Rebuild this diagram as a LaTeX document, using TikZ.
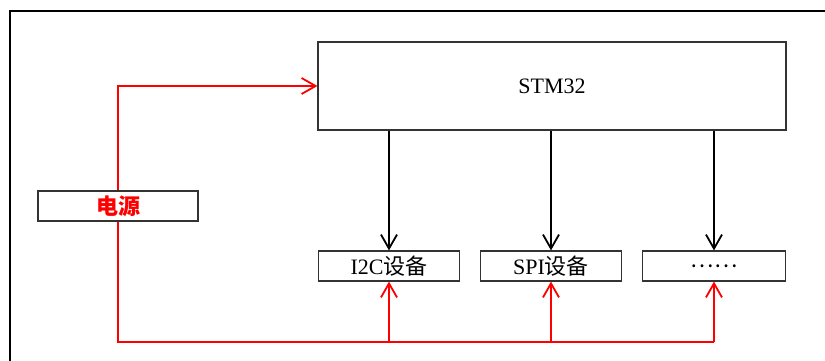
\documentclass[tikz,border=0pt]{standalone}
\usepackage{fontspec}
\setmainfont{Liberation Serif}
\newfontfamily\cjk{Noto Sans CJK SC}
\usetikzlibrary{arrows.meta}
\tikzset{
    box/.style={draw=black!80, line width=1.2pt, fill=white, inner sep=0pt,
        minimum height=30pt, font=\fontsize{22}{24}\selectfont},
    wire/.style={line width=1.8pt},
    wire arrow/.style={wire, -{Straight Barb[length=14pt, width=16pt]}},
}

\begin{document}
\begin{tikzpicture}[x=1pt, y=-1pt]
\useasboundingbox (0,0) rectangle (825,361);
\draw[line width=1.4pt] (10,370) -- (10,11) -- (835,11);
\node[box, minimum width=468pt, minimum height=88pt] (stm) at (552,86) {STM32};
\node[box, minimum width=160pt, text=red] (power) at (118,206) {\cjk\bfseries 电源};
\node[box, minimum width=141pt] (i2c) at (389,266) {I2C{\cjk 设备}};
\node[box, minimum width=141pt] (spi) at (551,266) {SPI{\cjk 设备}};
\node[box, minimum width=143pt] (more) at (714,266) {{\cjk ……}};
\foreach \n in {i2c,spi,more}
    \draw[wire arrow] (stm.south -| \n.north) -- (\n.north);
\draw[wire arrow, red] (power.north) |- (stm.west);
\draw[wire, red] (power.south) |- ([yshift=-60pt]more.south);
\foreach \n in {i2c,spi,more}
    \draw[wire arrow, red] ([yshift=-60pt]\n.south) -- (\n.south);
\end{tikzpicture}
\end{document}
